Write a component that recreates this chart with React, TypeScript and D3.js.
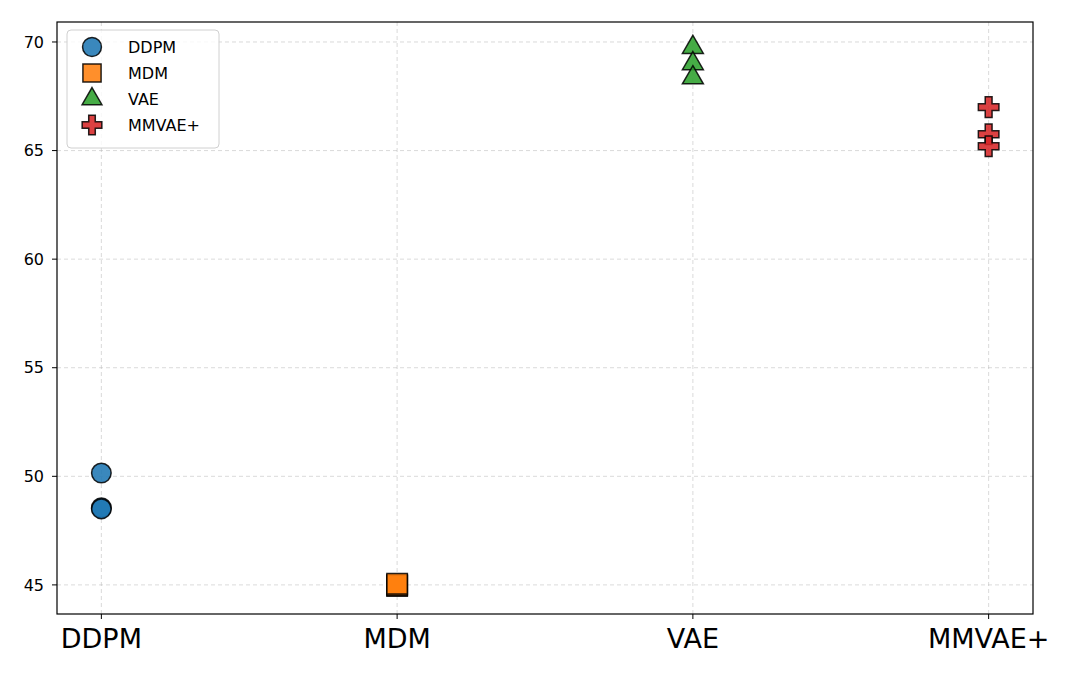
import React from "react";
import * as d3 from "d3";

const W = 1080;
const H = 675;
const M = { top: 22, right: 47, bottom: 61, left: 57 };

const categories = ["DDPM", "MDM", "VAE", "MMVAE+"];
const colors = ["#1f77b4", "#ff7f0e", "#2ca02c", "#d62728"];
const ddpmValues = [50.15, 48.55, 48.5];
const mdmValues = [44.95, 45.0, 45.05];
const vaeValues = [69.75, 69.0, 68.35];
const mmvaeValues = [67.0, 65.75, 65.2];
const yTicks = [45, 50, 55, 60, 65, 70];

const seriesValues = [ddpmValues, mdmValues, vaeValues, mmvaeValues];
const symbols = [
  d3.symbol(d3.symbolCircle, 300)(),
  d3.symbol(d3.symbolSquare, 420)(),
  d3.symbol(d3.symbolTriangle, 190)(),
  d3.symbol(d3.symbolCross, 235)(),
];
const legendSymbols = [
  d3.symbol(d3.symbolCircle, 280)(),
  d3.symbol(d3.symbolSquare, 330)(),
  d3.symbol(d3.symbolTriangle, 170)(),
  d3.symbol(d3.symbolCross, 215)(),
];

export default function App() {
  const innerW = W - M.left - M.right;
  const innerH = H - M.top - M.bottom;

  const x = d3.scaleLinear().domain([-0.15, 3.15]).range([0, innerW]);
  const y = d3.scaleLinear().domain([43.66, 70.92]).range([innerH, 0]);

  const font = "DejaVu Sans, sans-serif";

  return (
    <svg width={W} height={H} style={{ position: "absolute", left: 0, top: 0, background: "#fff" }}>
      <g transform={`translate(${M.left},${M.top})`}>
        {/* grid */}
        {yTicks.map((t) => (
          <line key={"gy" + t} x1={0} x2={innerW} y1={y(t)} y2={y(t)}
            stroke="#b0b0b0" strokeOpacity={0.6} strokeDasharray="4,3" strokeWidth={0.8} />
        ))}
        {categories.map((c, i) => (
          <line key={"gx" + c} x1={x(i)} x2={x(i)} y1={0} y2={innerH}
            stroke="#b0b0b0" strokeOpacity={0.6} strokeDasharray="4,3" strokeWidth={0.8} />
        ))}

        {/* points */}
        {seriesValues.map((vals, si) =>
          vals.map((v, j) => (
            <path key={si + "-" + j} d={symbols[si]!}
              transform={`translate(${x(si)},${y(v)})`}
              fill={colors[si]} fillOpacity={0.88}
              stroke="#000" strokeWidth={1.5} strokeOpacity={0.85} />
          ))
        )}

        {/* frame */}
        <rect x={0} y={0} width={innerW} height={innerH} fill="none" stroke="#000" strokeWidth={1.2} />

        {/* y ticks */}
        {yTicks.map((t) => (
          <g key={"ty" + t} transform={`translate(0,${y(t)})`}>
            <line x1={-5} x2={0} stroke="#000" strokeWidth={1} />
            <text x={-13} dy="0.35em" textAnchor="end" fontFamily={font} fontSize={16} fill="#000">{t}</text>
          </g>
        ))}

        {/* x ticks */}
        {categories.map((c, i) => (
          <g key={"tx" + c} transform={`translate(${x(i)},${innerH})`}>
            <line y1={0} y2={5} stroke="#000" strokeWidth={1} />
            <text y={34} textAnchor="middle" fontFamily={font} fontSize={27} fill="#000">{c}</text>
          </g>
        ))}

        {/* legend */}
        <g transform="translate(10,8)">
          <rect x={0} y={0} width={152} height={118} rx={4} fill="#fff" fillOpacity={0.8} stroke="#d0d0d0" strokeWidth={1} />
          {categories.map((c, i) => (
            <g key={"lg" + c} transform={`translate(25,${17 + i * 26})`}>
              <path d={legendSymbols[i]!} fill={colors[i]} fillOpacity={0.88} stroke="#000" strokeWidth={1.5} strokeOpacity={0.85} />
              <text x={36} dy="0.35em" fontFamily={font} fontSize={16} fill="#000">{c}</text>
            </g>
          ))}
        </g>
      </g>
    </svg>
  );
}
